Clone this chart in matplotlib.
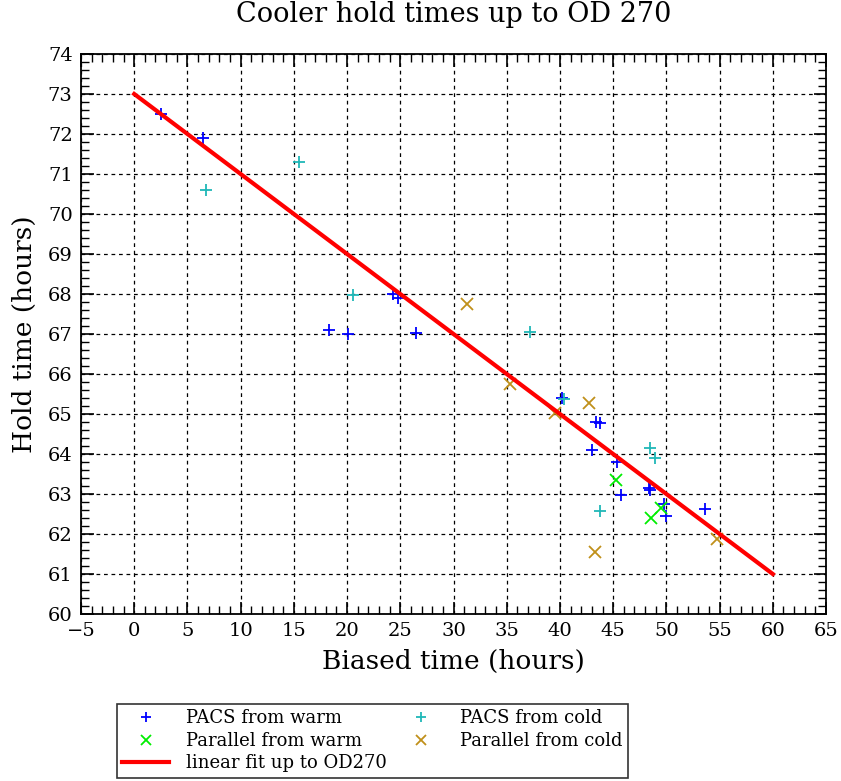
import matplotlib
matplotlib.use('Agg')
import matplotlib.pyplot as plt
import numpy as np
from matplotlib.ticker import MultipleLocator
from matplotlib.legend_handler import HandlerLine2D

# PACS from warm
pw_x = [2.5, 6.5, 18.3, 20.1, 24.3, 24.8, 26.5, 40.2, 43.4, 43.75, 43.0,
        45.4, 45.7, 48.4, 48.5, 49.8, 50.0, 53.6]
pw_y = [72.5, 71.9, 67.1, 67.0, 68.0, 67.9, 67.03, 65.4, 64.8, 64.77, 64.1,
        63.8, 62.98, 63.15, 63.1, 62.75, 62.45, 62.63]

# PACS from cold
pc_x = [6.7, 15.5, 20.6, 37.2, 40.4, 48.5, 48.9, 43.75]
pc_y = [70.6, 71.3, 67.97, 67.05, 65.37, 64.15, 63.9, 62.57]

# Parallel from warm
parw_x = [45.3, 48.6, 49.5]
parw_y = [63.35, 62.4, 62.65]

# Parallel from cold
parc_x = [31.3, 35.3, 39.5, 42.7, 43.3, 54.8]
parc_y = [67.75, 65.75, 65.02, 65.28, 61.55, 61.87]

# linear fit up to OD270
fit_x = [0, 60]
fit_y = [73.0, 61.0]


class RightMarker(HandlerLine2D):
    # put the single legend marker at the right end of the handle
    def get_xdata(self, legend, xdescent, ydescent, width, height, fontsize):
        xdata, _ = super().get_xdata(legend, xdescent, ydescent, width, height, fontsize)
        return xdata, np.array([-xdescent + width - 0.3 * fontsize])


plt.rcParams['font.family'] = ['DejaVu Serif']

fig = plt.figure(figsize=(8.41, 7.81), dpi=100)
ax = fig.add_axes([0.0963, 0.2138, 0.8859, 0.7171])

h1, = ax.plot(pw_x, pw_y, '+', color='blue', ms=9, mew=1.3, label='PACS from warm')
h2, = ax.plot(parw_x, parw_y, 'x', color='#00ee00', ms=9, mew=1.3, label='Parallel from warm')
h4, = ax.plot(pc_x, pc_y, '+', color='#20b8b8', ms=9, mew=1.3, label='PACS from cold')
h5, = ax.plot(parc_x, parc_y, 'x', color='#c0901a', ms=9, mew=1.3, label='Parallel from cold')
h3, = ax.plot(fit_x, fit_y, '-', color='red', lw=3, label='linear fit up to OD270')

ax.set_xlim(-5, 65)
ax.set_ylim(60, 74)
ax.xaxis.set_major_locator(MultipleLocator(5))
ax.xaxis.set_minor_locator(MultipleLocator(1))
ax.yaxis.set_major_locator(MultipleLocator(1))
ax.yaxis.set_minor_locator(MultipleLocator(0.2))
ax.tick_params(which='both', direction='in', top=True, right=True)
ax.tick_params(which='major', length=9, width=1.2, labelsize=14, pad=6)
ax.tick_params(which='minor', length=6, width=1)
ax.grid(True, which='major', color='black', linestyle=(0, (3, 3)), linewidth=0.9)
for s in ax.spines.values():
    s.set_linewidth(1.3)

ax.set_title('Cooler hold times up to OD 270', fontsize=19.5, pad=23)
ax.set_xlabel('Biased time (hours)', fontsize=19, labelpad=6)
ax.set_ylabel('Hold time (hours)', fontsize=19, labelpad=8)

handles = [h1, h2, h3, h4, h5]
mk = RightMarker()
leg = fig.legend(handles, [h.get_label() for h in handles],
                 ncol=2, loc='lower left', bbox_to_anchor=(0.139, 0.004),
                 borderaxespad=0, fontsize=13, frameon=True, fancybox=False,
                 edgecolor='black', handlelength=2.6, handletextpad=0.9,
                 borderpad=0.3, labelspacing=0.25, columnspacing=0.6,
                 markerscale=0.85,
                 handler_map={h1: mk, h2: mk, h4: mk, h5: mk})
leg.get_frame().set_linewidth(1.2)

fig.savefig('out.png', dpi=100)
